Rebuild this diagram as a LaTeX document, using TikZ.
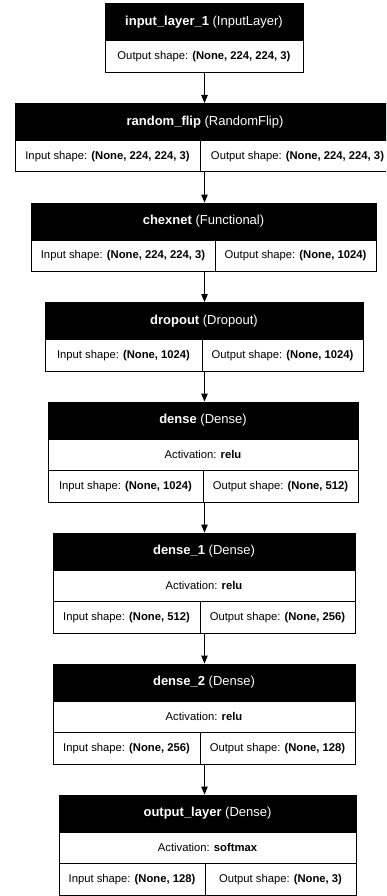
\documentclass[tikz,border=0pt]{standalone}
\usepackage{fontspec}
\setmainfont{Liberation Sans}
\usetikzlibrary{arrows.meta}

\begin{document}
\begin{tikzpicture}[x=1pt,y=-1pt,>={Triangle[length=8pt,width=6.5pt]}]
\tikzset{hdr/.style={draw=black,fill=black,text=white,line width=1pt,inner sep=0,minimum height=37pt,font=\fontsize{13}{15}\selectfont},
  cell/.style={draw=black,fill=white,line width=1pt,inner sep=0,minimum height=31.5pt,font=\fontsize{11.25}{13}\selectfont},
  edge/.style={->,line width=1pt}}

\clip (0,0) rectangle (386,896);

% the column the arrows run down
\coordinate (axis) at (204.5,0);

% input_layer_1
\node[hdr,minimum width=198pt] (inp-h) at (204,22.5) {\textbf{input\_layer\_1} (InputLayer)};
\node[cell,minimum width=198pt] (inp-o) at (204,56.75) {Output shape: \textbf{(None, 224, 224, 3)}};

% random_flip - runs off the right edge
\node[hdr,minimum width=380pt] (flip-h) at (205,122) {\textbf{random\_flip} (RandomFlip)};
\node[cell,minimum width=185pt] (flip-i) at (107.5,156.25) {Input shape: \textbf{(None, 224, 224, 3)}};
\node[cell,minimum width=195pt] (flip-o) at (297.5,156.25) {Output shape: \textbf{(None, 224, 224, 3)}};

% chexnet
\node[hdr,minimum width=345pt] (chex-h) at (203.5,221.5) {\textbf{chexnet} (Functional)};
\node[cell,minimum width=184pt] (chex-i) at (123,255.75) {Input shape: \textbf{(None, 224, 224, 3)}};
\node[cell,minimum width=161pt] (chex-o) at (295.5,255.75) {Output shape: \textbf{(None, 1024)}};

% dropout
\node[hdr,minimum width=318pt] (drop-h) at (204,321) {\textbf{dropout} (Dropout)};
\node[cell,minimum width=157pt] (drop-i) at (123.5,355.25) {Input shape: \textbf{(None, 1024)}};
\node[cell,minimum width=161pt] (drop-o) at (282.5,355.25) {Output shape: \textbf{(None, 1024)}};

% dense
\node[hdr,minimum width=310pt] (dense-h) at (203,420.5) {\textbf{dense} (Dense)};
\node[cell,minimum width=310pt] (dense-a) at (203,454.75) {Activation: \textbf{relu}};
\node[cell,minimum width=155pt] (dense-i) at (125.5,486.25) {Input shape: \textbf{(None, 1024)}};
\node[cell,minimum width=155pt] (dense-o) at (280.5,486.25) {Output shape: \textbf{(None, 512)}};

% dense_1
\node[hdr,minimum width=302pt] (dense1-h) at (204,551.5) {\textbf{dense\_1} (Dense)};
\node[cell,minimum width=302pt] (dense1-a) at (204,585.75) {Activation: \textbf{relu}};
\node[cell,minimum width=147pt] (dense1-i) at (126.5,617.25) {Input shape: \textbf{(None, 512)}};
\node[cell,minimum width=155pt] (dense1-o) at (277.5,617.25) {Output shape: \textbf{(None, 256)}};

% dense_2
\node[hdr,minimum width=302pt] (dense2-h) at (204,682.5) {\textbf{dense\_2} (Dense)};
\node[cell,minimum width=302pt] (dense2-a) at (204,716.75) {Activation: \textbf{relu}};
\node[cell,minimum width=147pt] (dense2-i) at (126.5,748.25) {Input shape: \textbf{(None, 256)}};
\node[cell,minimum width=155pt] (dense2-o) at (277.5,748.25) {Output shape: \textbf{(None, 128)}};

% output_layer
\node[hdr,minimum width=297pt] (out-h) at (207.5,813.5) {\textbf{output\_layer} (Dense)};
\node[cell,minimum width=297pt] (out-a) at (207.5,847.75) {Activation: \textbf{softmax}};
\node[cell,minimum width=146pt] (out-i) at (132,879.25) {Input shape: \textbf{(None, 128)}};
\node[cell,minimum width=151pt] (out-o) at (280.5,879.25) {Output shape: \textbf{(None, 3)}};

% arrows between the layers
\foreach \a/\b in {inp-o/flip-h,flip-i/chex-h,chex-i/drop-h,drop-i/dense-h,dense-i/dense1-h,dense1-i/dense2-h,dense2-i/out-h}
  \draw[edge] (axis |- \a.south) -- (axis |- \b.north);

\end{tikzpicture}
\end{document}
